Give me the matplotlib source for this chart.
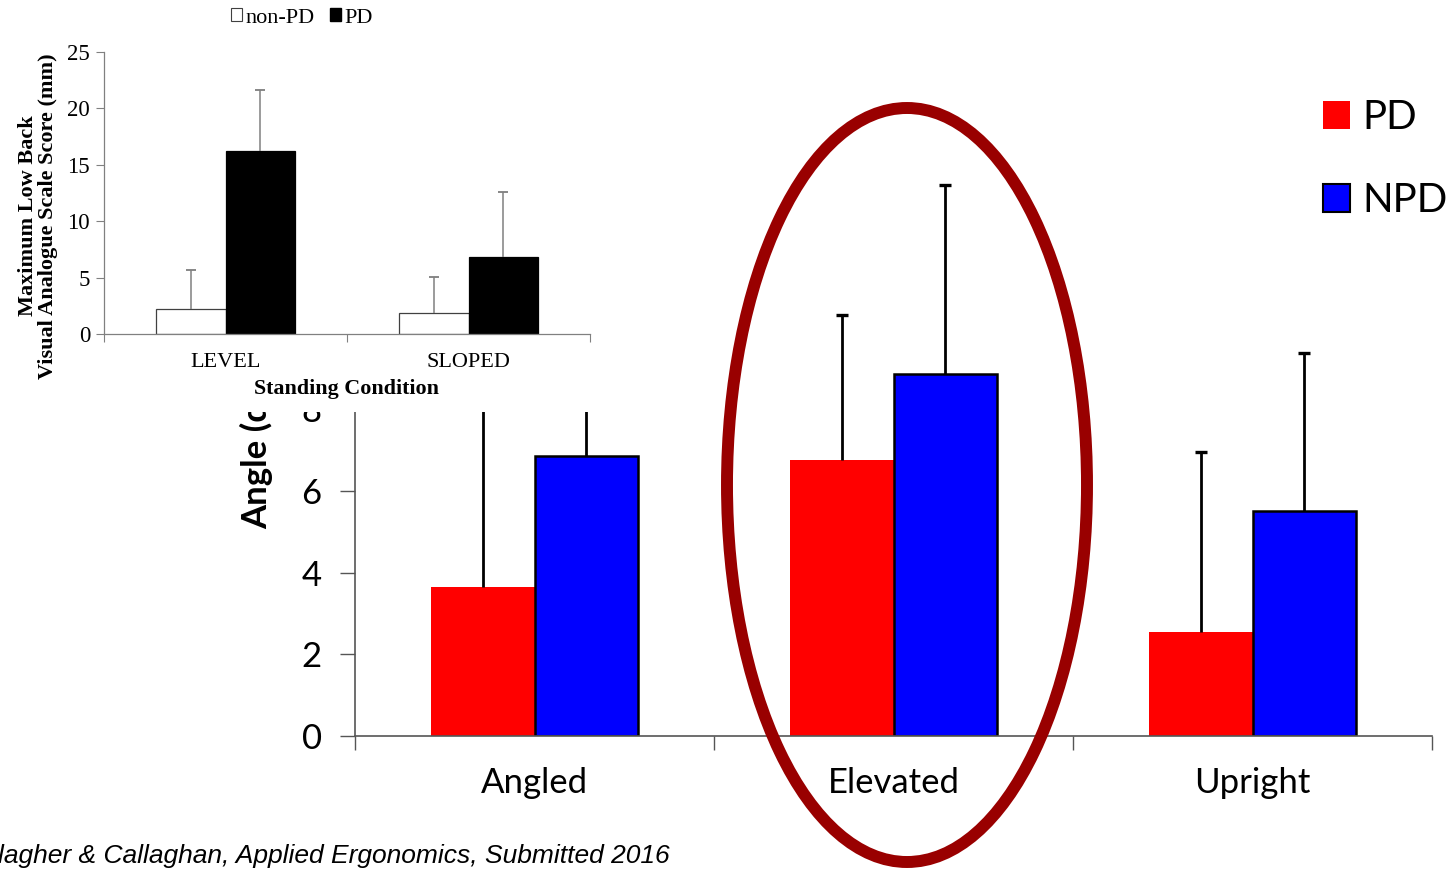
import matplotlib
matplotlib.use('Agg')
import matplotlib.pyplot as plt
import numpy as np
from matplotlib.patches import Ellipse, Rectangle

W, H = 1453, 869

# main chart data (angle)
conditions = ['Angled', 'Elevated', 'Upright']
pd_angle = [3.65, 6.77, 2.55]
pd_angle_err = [7.0, 3.55, 4.41]
npd_angle = [6.86, 8.87, 5.51]
npd_angle_err = [3.2, 4.62, 3.87]

# inset chart data (low back VAS)
stands = ['LEVEL', 'SLOPED']
nonpd_vas = [2.2, 1.9]
nonpd_vas_sd = [3.45, 3.15]
pd_vas = [16.25, 6.8]
pd_vas_sd = [5.35, 5.8]


def upper_err(a, xs, means, errs, color, lw, cap, z=3):
    # only the upper whisker with a cap, like the original
    tops = np.array(means) + np.array(errs)
    a.vlines(xs, means, tops, colors=color, linewidth=lw, zorder=z)
    a.plot(xs, tops, linestyle='none', marker='_', markersize=cap,
           markeredgewidth=lw * 1.2, color=color, zorder=z)


fig = plt.figure(figsize=(W / 100, H / 100), dpi=100)

# --- main chart ---
ax = fig.add_axes([355 / W, (H - 736) / H, (1432 - 355) / W, (736 - 83) / H])
ax.set_zorder(0)
x = np.arange(len(conditions))
bw = 0.287
ax.bar(x - bw / 2, pd_angle, bw, color='#ff0000', edgecolor='none', zorder=2)
ax.bar(x + bw / 2, npd_angle, bw, color='#0000ff', edgecolor='black', linewidth=1.8, zorder=2)
upper_err(ax, x - bw / 2, pd_angle, pd_angle_err, 'black', 2.0, 9)
upper_err(ax, x + bw / 2, npd_angle, npd_angle_err, 'black', 2.0, 9)
ax.set_xlim(-0.5, 2.5)
ax.set_ylim(0, 16)
ax.set_yticks(np.arange(0, 17, 2))
ax.set_xticks(x)
ax.set_xticklabels(conditions)
ax.set_xticks([-0.5, 0.5, 1.5, 2.5], minor=True)
ax.tick_params(axis='x', which='major', length=0, pad=22, labelsize=25)
ax.tick_params(axis='x', which='minor', length=10, width=1, color='#555555')
ax.tick_params(axis='y', length=11, width=1, color='#555555', labelsize=25, pad=13)
for lab in ax.get_xticklabels() + ax.get_yticklabels():
    lab.set_family('Lato')
for s in ['top', 'right']:
    ax.spines[s].set_visible(False)
for s in ['left', 'bottom']:
    ax.spines[s].set_color('#555555')
    ax.spines[s].set_linewidth(1.2)
ax.set_ylabel('Angle (degrees)', fontsize=25, fontweight='bold', family='Lato')
ax.yaxis.set_label_coords(-0.076, 0.5)

handles = [Rectangle((0, 0), 1, 1, facecolor='#ff0000', edgecolor='none'),
           Rectangle((0, 0), 1, 1, facecolor='#0000ff', edgecolor='black', linewidth=1.5)]
fig.legend(handles, ['PD', 'NPD'], loc='upper left', bbox_to_anchor=(1323 / W, 1 - 99 / H),
           frameon=False, prop={'family': 'Lato', 'size': 29}, handlelength=0.68,
           handleheight=0.68, handletextpad=0.3, labelspacing=1.15, borderpad=0,
           borderaxespad=0)

# red ellipse around Elevated
fig.add_artist(Ellipse((907 / W, 1 - 485 / H), 360 / W, 754 / H, transform=fig.transFigure,
                       fill=False, edgecolor='#990000', linewidth=8.6, zorder=5))

# footer
fig.text(670 / W, 1 - 856 / H, 'Gallagher & Callaghan, Applied Ergonomics, Submitted 2016',
         ha='right', va='center', style='italic', family='Liberation Sans', fontsize=19)

# --- inset chart ---
fig.add_artist(Rectangle((0, 1 - 412 / H), 612 / W, 412 / H, transform=fig.transFigure,
                         facecolor='white', edgecolor='none', zorder=1))
ins = fig.add_axes([104 / W, (H - 334) / H, (590 - 104) / W, (334 - 52) / H])
ins.set_zorder(2)
xi = np.arange(len(stands))
ibw = 0.284
ins.bar(xi - ibw / 2, nonpd_vas, ibw, color='white', edgecolor='#404040', linewidth=0.9, zorder=2)
ins.bar(xi + ibw / 2, pd_vas, ibw, color='black', edgecolor='black', linewidth=0.9, zorder=2)
upper_err(ins, xi - ibw / 2, nonpd_vas, nonpd_vas_sd, '#808080', 1.1, 7)
upper_err(ins, xi + ibw / 2, pd_vas, pd_vas_sd, '#808080', 1.1, 7)
ins.set_xlim(-0.5, 1.5)
ins.set_ylim(0, 25)
ins.set_yticks(np.arange(0, 26, 5))
ins.set_xticks(xi)
ins.set_xticklabels(stands)
ins.set_xticks([-0.5, 0.5, 1.5], minor=True)
ins.tick_params(axis='x', which='major', length=0, pad=14, labelsize=16)
ins.tick_params(axis='x', which='minor', length=6, width=0.8, color='#808080')
ins.tick_params(axis='y', length=6, width=0.8, color='#808080', labelsize=16.5, pad=4)
for lab in ins.get_xticklabels() + ins.get_yticklabels():
    lab.set_family('Liberation Serif')
for s in ['top', 'right']:
    ins.spines[s].set_visible(False)
for s in ['left', 'bottom']:
    ins.spines[s].set_color('#808080')
    ins.spines[s].set_linewidth(0.9)
ins.set_xlabel('Standing Condition', fontsize=15.8, fontweight='bold',
               family='Liberation Serif', labelpad=5)
fig.text(38 / W, 1 - 216 / H, 'Maximum Low Back\nVisual Analogue Scale Score (mm)',
         rotation=90, ha='center', va='center', multialignment='center',
         fontsize=16, fontweight='bold', family='Liberation Serif', linespacing=1.0)

ihandles = [Rectangle((0, 0), 1, 1, facecolor='white', edgecolor='#404040', linewidth=0.8),
            Rectangle((0, 0), 1, 1, facecolor='black', edgecolor='black')]
leg = fig.legend(ihandles, ['non-PD', 'PD'], loc='center', bbox_to_anchor=(302 / W, 1 - 18 / H),
                 ncol=2, frameon=False, prop={'family': 'Liberation Serif', 'size': 16},
                 handlelength=0.5, handleheight=0.5, handletextpad=0.15, columnspacing=0.7,
                 borderpad=0)
leg.set_zorder(6)

fig.savefig('out.png', dpi=100)
